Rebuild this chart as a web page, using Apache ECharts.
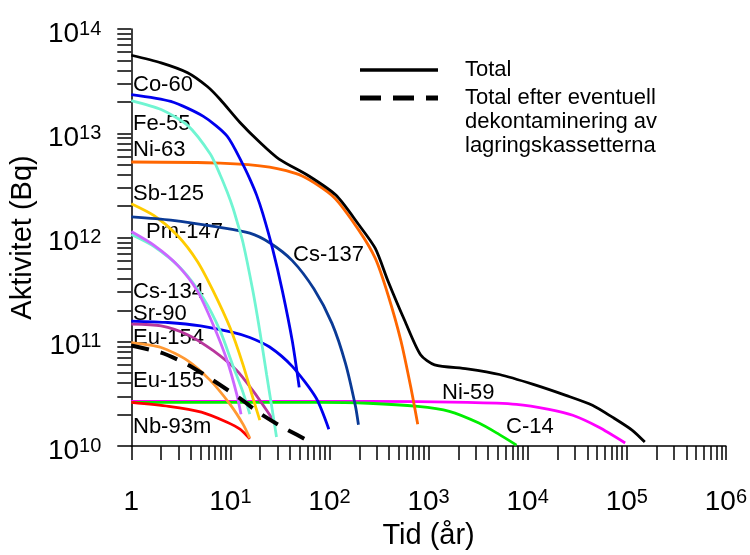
<!DOCTYPE html>
<html><head><meta charset="utf-8">
<script src="https://cdn.jsdelivr.net/npm/echarts@6/dist/echarts.min.js"></script>
<style>html,body{margin:0;padding:0;background:#fff}#c{width:750px;height:555px}</style>
</head><body><div id="c"></div>
<script>
// ---- data (time in years, activity in Bq) ----
const xLabelExps = [0, 1, 2, 3, 4, 5, 6];
const yLabelExps = [10, 11, 12, 13, 14];

const total = [[1,5.6e13],[2,4.74e13],[3.7,3.81e13],[5.85,2.81e13],[7.9,2.11e13],[12.5,1.27e13],[19.8,8.2e12],[31,5.65e12],[62,3.89e12],[116,2.55e12],[196,1.34e12],[290,7.85e11],[390,3.81e11],[577,1.58e11],[830,7.5e10],[1150,6.0e10],[2450,5.5e10],[5200,4.85e10],[11400,3.9e10],[24300,3.06e10],[45000,2.46e10],[71500,1.89e10],[113000,1.42e10],[152000,1.09e10]];
const totalDecon = [[1,9.2e10],[2,7.85e10],[3.7,6.04e10],[6.7,4.26e10],[12.5,2.86e10],[19.8,2.06e10],[33.5,1.52e10],[70,1.05e10]];
const co60 = [[1,2.35e13],[2.5,2.02e13],[5.34,1.45e13],[9.27,9.4e12],[13.4,5.0e12],[15.7,3.65e12],[18.4,2.55e12],[21.2,1.7e12],[26.6,7.85e11],[33.5,3.06e11],[42.1,1.02e11],[49.5,3.65e10]];
const fe55 = [[1,2.06e13],[2,1.69e13],[3.7,1.19e13],[6.27,6.31e12],[7.89,3.98e12],[9.27,2.74e12],[10.6,1.93e12],[11.6,1.45e12],[13.4,8.96e11],[16.8,3.13e11],[19.8,1.27e11],[23.2,4.85e10],[26.6,2.15e10],[29.2,1.22e10]];
const ni63 = [[1,5.3e12],[7.89,5.18e12],[24.9,4.74e12],[53,3.89e12],[110,2.45e12],[196,1.19e12],[290,6.3e11],[390,2.81e11],[526,1.02e11],[662,3.65e10],[777,1.62e10]];
const sb125 = [[1,2.11e12],[1.7,1.62e12],[2.94,1.04e12],[4.65,5.9e11],[6.72,3.06e11],[9.93,1.36e11],[13.4,6.04e10],[16.8,2.93e10],[19.8,1.77e10]];
const cs137 = [[1,1.58e12],[2.5,1.47e12],[7.89,1.25e12],[15.7,1.1e12],[24.9,8.9e11],[42.1,6.0e11],[69.8,3.2e11],[106,1.5e11],[145,6.2e10],[183,2.4e10],[196,1.6e10]];
const pm147 = [[1,1.14e12],[1.7,8.4e11],[2.94,5.4e11],[4.65,3.06e11],[6.72,1.45e11],[9.27,6.6e10],[11.6,3.13e10],[12.8,2.02e10]];
const cs134 = [[1,1.07e12],[1.7,8.2e11],[3.15,5.07e11],[5.34,2.62e11],[7.89,1.27e11],[10.6,5.9e10],[13.4,3.27e10],[15.7,2.02e10]];
const sr90 = [[1,1.58e11],[2.34,1.53e11],[4.99,1.42e11],[10.6,1.23e11],[15.7,1.1e11],[24.9,8.9e10],[42.1,5.8e10],[73.1,2.9e10],[98.5,1.45e10]];
const eu154 = [[1,1.48e11],[2,1.42e11],[3.7,1.17e11],[6.72,8.2e10],[11.6,5.3e10],[16.8,3.41e10],[23.2,2.2e10],[29.2,1.58e10]];
const eu155 = [[1,9.8e10],[2,8.8e10],[3.7,6.6e10],[6.27,4.26e10],[9.93,2.51e10],[13.4,1.62e10],[15.7,1.19e10]];
const nb93m = [[1,2.62e10],[2.39,2.4e10],[5.1,2.11e10],[9.27,1.69e10],[12.5,1.45e10],[15.7,1.17e10]];
const ni59 = [[1,2.68e10],[247,2.68e10],[2450,2.62e10],[7710,2.51e10],[16400,2.25e10],[28500,1.97e10],[51800,1.52e10],[96300,1.07e10]];
const c14 = [[1,2.62e10],[78,2.62e10],[247,2.57e10],[777,2.4e10],[1620,2.15e10],[3220,1.66e10],[5100,1.3e10],[7710,1.02e10]];

const legendNames = ['Total', 'Total efter eventuell\ndekontaminering av\nlagringskassetterna'];

// ---- styling / layout ----
const FONT = 'Liberation Sans, Arial, sans-serif';
const curves = [
  {name:'Ni-59', data:ni59, color:'#ff00ff', lx:442, ly:393},
  {name:'C-14', data:c14, color:'#00ee00', lx:506, ly:427},
  {name:'Nb-93m', data:nb93m, color:'#ff0000', lx:133, ly:427},
  {name:'Eu-155', data:eu155, color:'#ff9933', lx:133, ly:381},
  {name:'Eu-154', data:eu154, color:'#b8369c', lx:133, ly:338},
  {name:'Sr-90', data:sr90, color:'#0000ee', lx:133, ly:314},
  {name:'Cs-134', data:cs134, color:'#70f5d2', lx:133, ly:292},
  {name:'Pm-147', data:pm147, color:'#cc66ff', lx:146, ly:232},
  {name:'Sb-125', data:sb125, color:'#ffcc00', lx:133, ly:194},
  {name:'Cs-137', data:cs137, color:'#0a3a96', lx:293, ly:255},
  {name:'Ni-63', data:ni63, color:'#ff6600', lx:133, ly:150},
  {name:'Fe-55', data:fe55, color:'#70f5d2', lx:133, ly:124},
  {name:'Co-60', data:co60, color:'#0000ee', lx:133, ly:85}
];

function minorPositions(lo, hi) {
  const out = [];
  for (let d = lo; d < hi; d++) for (let k = 1; k < 10; k++) out.push(d + Math.log10(k));
  out.push(hi);
  return out;
}

const axisLineStyle = {color:'#000', width:1.5};
const rich = {
  b: {fontFamily: FONT, fontSize: 28, lineHeight: 30, color:'#000'},
  s: {fontFamily: FONT, fontSize: 20, lineHeight: 6, verticalAlign: 'top', color:'#000'}
};

const SMOOTH = 0.25;
const series = curves.map(c => ({
  name: c.name, type: 'line', xAxisIndex: 0, yAxisIndex: 0,
  data: c.data, showSymbol: false, symbol: 'none', smooth: SMOOTH,
  lineStyle: {color: c.color, width: 2.8}, silent: true
}));
series.push({
  name: legendNames[1], type: 'line', xAxisIndex: 0, yAxisIndex: 0,
  data: totalDecon, symbol: 'none', smooth: SMOOTH,
  lineStyle: {color:'#000', width: 4, type: [18, 12]}
});
series.push({
  name: legendNames[0], type: 'line', xAxisIndex: 0, yAxisIndex: 0,
  data: total, symbol: 'none', smooth: SMOOTH,
  lineStyle: {color:'#000', width: 2.8}
});

const graphic = curves.map(c => ({
  type: 'text', x: c.lx, y: c.ly, z: 1,
  style: {text: c.name, font: '22px ' + FONT, fill: '#000', verticalAlign: 'middle'}
}));
graphic.push(
  {type:'line', shape:{x1:360, y1:70, x2:438, y2:70}, style:{stroke:'#000', lineWidth:3.5}},
  {type:'line', shape:{x1:360, y1:98, x2:438, y2:98}, style:{stroke:'#000', lineWidth:5, lineDash:[21,12]}},
  {type:'text', x:465, y:70, style:{text: legendNames[0], font:'22px ' + FONT, fill:'#000', verticalAlign:'middle'}},
  {type:'text', x:465, y:86, style:{text: legendNames[1], font:'22px ' + FONT, fill:'#000', verticalAlign:'top', lineHeight:24}}
);

const chart = echarts.init(document.getElementById('c'), null, {renderer:'canvas'});
chart.setOption({
  backgroundColor: '#fff',
  animation: false,
  grid: {left:130, right:18, top:29, bottom:106},
  xAxis: [
    {type:'log', logBase:10, min:1, max:1e6, show:false, gridIndex:0, position:'bottom'},
    {type:'value', min:0, max:6, gridIndex:0, position:'bottom',
     name:'Tid (år)', nameLocation:'middle', nameGap:75,
     nameTextStyle:{fontFamily:FONT, fontSize:29, color:'#000'},
     axisLine:{show:true, lineStyle:axisLineStyle},
     axisTick:{show:true, inside:false, length:14, lineStyle:axisLineStyle, customValues: minorPositions(0, 6)},
     axisLabel:{show:true, margin:41, customValues: xLabelExps, rich: rich,
       formatter: v => v === 0 ? '{b|1}' : '{b|10}{s|' + v + '}'},
     splitLine:{show:false}}
  ],
  yAxis: [
    {type:'log', logBase:10, min:1e10, max:1e14, show:false, gridIndex:0, position:'left'},
    {type:'value', min:10, max:14, gridIndex:0, position:'left',
     name:'Aktivitet (Bq)', nameLocation:'middle', nameGap:90,
     nameTextStyle:{fontFamily:FONT, fontSize:29, color:'#000'},
     axisLine:{show:true, lineStyle:axisLineStyle},
     axisTick:{show:true, inside:false, length:14, lineStyle:axisLineStyle, customValues: minorPositions(10, 14)},
     axisLabel:{show:true, margin:30, customValues: yLabelExps, rich: rich, padding:[10,0,0,0],
       formatter: v => '{b|10}{s|' + v + '}'},
     splitLine:{show:false}}
  ],
  series: series,
  graphic: graphic
});
</script></body></html>
